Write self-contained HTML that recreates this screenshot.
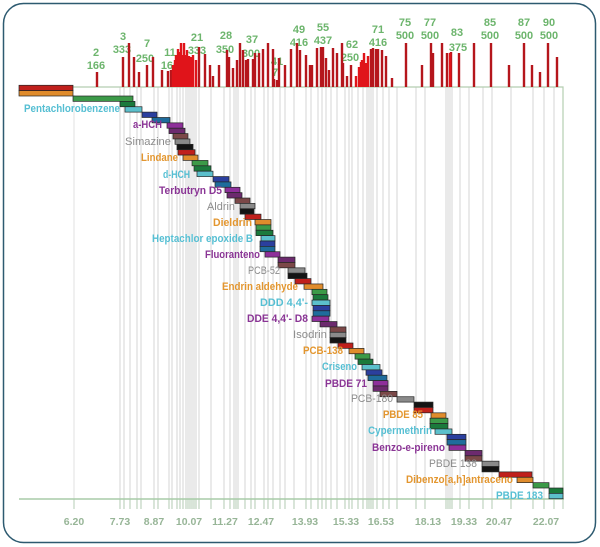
<!DOCTYPE html>
<html><head><meta charset="utf-8"><style>
html,body{margin:0;padding:0;background:#fff;}
svg{display:block;}
.c0{fill:#3c9a48}.c1{fill:#1b7a3c}.c2{fill:#5cc0cc}.c3{fill:#2b3f9e}.c4{fill:#1f6c9c}.c5{fill:#8e2f9a}
.c6{fill:#6c2a6e}.c7{fill:#7b4848}.c8{fill:#8a8a8a}.c9{fill:#141414}.c10{fill:#c0201c}.c11{fill:#e08c2c}
.b rect{stroke:#262626;stroke-width:0.7;}
.n{font-family:"Liberation Sans",sans-serif;font-weight:bold;font-size:11px;fill:#6db56d;text-anchor:middle;}
.ax{font-family:"Liberation Sans",sans-serif;font-weight:bold;font-size:10.5px;fill:#97b597;text-anchor:middle;}
.l{font-family:"Liberation Sans",sans-serif;font-weight:bold;font-size:11px;}
.cy{fill:#56bfd3}.pu{fill:#8a3595}.gr{fill:#8c8c8c;font-weight:normal}.or{fill:#e3962f}
</style></head><body>
<svg width="600" height="547" viewBox="0 0 600 547" xmlns="http://www.w3.org/2000/svg">
<rect x="0" y="0" width="600" height="547" fill="#fff"/>
<rect x="3.5" y="3.5" width="592" height="539" rx="20" ry="20" fill="#fff" stroke="#2d5a70" stroke-width="1.5"/>

<!-- gray vertical lines -->
<path d="M74 95V509" stroke="#e0e0e0" stroke-width="1" fill="none"/>
<path d="M120 87V509M124 87V509M130 87V509M137 87V509M141 87V509M154 87V509M158 87V509M169 87V509M172 87V509M177 87V509M180 87V509M183 87V509M186 87V509M188 87V509M190 87V509M192 87V509M194 87V509M196 87V509M199 87V509M211 87V509M224 87V509M230 87V509M234 87V509M236 87V509M238 87V509M245 87V509M251 87V509M255 87V509M264 87V509M268 87V509M273 87V509M280 87V509M285 87V509M294 87V509M306 87V509M311 87V509M318 87V509M322 87V509M326 87V509M331 87V509M337 87V509M345 87V509M349 87V509M352 87V509M358 87V509M363 87V509M367 87V509M369 87V509M371 87V509M373 87V509M377 87V509M383 87V509M389 87V509M397 87V509M416 87V509M425 87V509M446 87V509M448 87V509M450 87V509M452 87V509M460 87V509M469 87V509M483 87V509M492 87V509M511 87V509M533 87V509M544 87V509M554 87V509" stroke="#d9d9d9" stroke-width="1.1" fill="none"/>
<!-- ticks below axis -->
<path d="M74 499V509M120 499V509M124 499V509M130 499V509M137 499V509M141 499V509M154 499V509M158 499V509M169 499V509M172 499V509M177 499V509M180 499V509M183 499V509M186 499V509M188 499V509M190 499V509M192 499V509M194 499V509M196 499V509M199 499V509M211 499V509M224 499V509M230 499V509M234 499V509M236 499V509M238 499V509M245 499V509M251 499V509M255 499V509M264 499V509M268 499V509M273 499V509M280 499V509M285 499V509M294 499V509M306 499V509M311 499V509M318 499V509M322 499V509M326 499V509M331 499V509M337 499V509M345 499V509M349 499V509M352 499V509M358 499V509M363 499V509M367 499V509M369 499V509M371 499V509M373 499V509M377 499V509M383 499V509M389 499V509M397 499V509M416 499V509M425 499V509M446 499V509M448 499V509M450 499V509M452 499V509M460 499V509M469 499V509M483 499V509M492 499V509M511 499V509M533 499V509M544 499V509M554 499V509M563 499V509" stroke="#bcd2bc" stroke-width="1.1" fill="none"/>

<!-- plot frame -->
<path d="M73 87H563V499" stroke="#b4ceb0" stroke-width="1.2" fill="none"/>
<path d="M19 499H564" stroke="#a8cca8" stroke-width="1.6" fill="none"/>

<!-- top numbers -->
<text class="n" x="96" y="56">2</text><text class="n" x="96" y="69">166</text>
<text class="n" x="123" y="40">3</text><text class="n" x="122" y="53">333</text>
<text class="n" x="147" y="47">7</text><text class="n" x="145" y="62">250</text>
<text class="n" x="170" y="56">11</text><text class="n" x="170" y="69">166</text>
<text class="n" x="197" y="41">21</text><text class="n" x="197" y="54">333</text>
<text class="n" x="226" y="39">28</text><text class="n" x="225" y="53">350</text>
<text class="n" x="252" y="43">37</text><text class="n" x="251" y="57">300</text>
<text class="n" x="277" y="65">41</text><text class="n" x="275" y="76">7</text>
<text class="n" x="299" y="33">49</text><text class="n" x="299" y="46">416</text>
<text class="n" x="323" y="31">55</text><text class="n" x="323" y="44">437</text>
<text class="n" x="352" y="48">62</text><text class="n" x="350" y="61">250</text>
<text class="n" x="378" y="33">71</text><text class="n" x="378" y="46">416</text>
<text class="n" x="405" y="26">75</text><text class="n" x="405" y="39">500</text>
<text class="n" x="430" y="26">77</text><text class="n" x="430" y="39">500</text>
<text class="n" x="457" y="36">83</text><text class="n" x="458" y="51">375</text>
<text class="n" x="490" y="26">85</text><text class="n" x="490" y="39">500</text>
<text class="n" x="524" y="26">87</text><text class="n" x="524" y="39">500</text>
<text class="n" x="549" y="26">90</text><text class="n" x="549" y="39">500</text>

<!-- red bars -->
<path d="M97 87V72M123 87V57M129 87V43M134 87V57M139 87V72M147 87V65M153 87V57M162 87V70M168 87V71M171 87V70M199 87V47M205 87V54M210 87V65M213 87V76M219 87V65M227 87V50M229 87V57M233 87V68M237 87V60M240 87V43M243 87V50M246 87V60M248 87V59M253 87V59M255 87V53M259 87V53M263 87V49M268 87V43M273 87V49M274 87V79M277 87V80M279 87V58M285 87V65M291 87V49M297 87V43M300 87V50M306 87V55M310 87V65M312 87V65M317 87V48M321 87V47M323 87V47M326 87V58M329 87V70M333 87V48M337 87V53M342 87V43M343 87V63M347 87V76M351 87V65M371 87V49M373 87V48M376 87V49M378 87V49M382 87V50M386 87V56M392 87V78M406 87V43M422 87V65M431 87V43M433 87V53M442 87V43M447 87V53M451 87V52M459 87V53M474 87V43M491 87V43M509 87V65M524 87V43M532 87V65M540 87V72M548 87V43M557 87V57" stroke="#b5161c" stroke-width="2.4" fill="none"/>
<path d="M173 87V65M175 87V60M176 87V55M178 87V49M180 87V52M181 87V43M183 87V55M184 87V43M186 87V55M187 87V50M189 87V56M191 87V57M193 87V55M196 87V60M356 87V76M359 87V67M361 87V62M362 87V60M364 87V53M366 87V63M368 87V56M450 87V53" stroke="#e0141a" stroke-width="2.4" fill="none"/>

<!-- staircase bars -->
<g class="b">
<rect class="c10" x="19" y="85.26" width="54" height="5.37"/>
<rect class="c11" x="19" y="90.63" width="54" height="5.37"/>
<rect class="c0" x="73" y="96" width="60" height="5.37"/>
<rect class="c1" x="120" y="101.37" width="15" height="5.37"/>
<rect class="c2" x="125" y="106.74" width="17" height="5.37"/>
<rect class="c3" x="142" y="112.11" width="15" height="5.37"/>
<rect class="c4" x="152" y="117.48" width="18" height="5.37"/>
<rect class="c5" x="167" y="122.85" width="16" height="5.37"/>
<rect class="c6" x="169" y="128.22" width="16" height="5.37"/>
<rect class="c7" x="173" y="133.59" width="15" height="5.37"/>
<rect class="c8" x="175" y="138.96" width="15" height="5.37"/>
<rect class="c9" x="177" y="144.33" width="16" height="5.37"/>
<rect class="c10" x="178" y="149.7" width="17" height="5.37"/>
<rect class="c11" x="183" y="155.07" width="15" height="5.37"/>
<rect class="c0" x="192" y="160.44" width="16" height="5.37"/>
<rect class="c1" x="194" y="165.81" width="17" height="5.37"/>
<rect class="c2" x="197" y="171.18" width="16" height="5.37"/>
<rect class="c3" x="213" y="176.55" width="16" height="5.37"/>
<rect class="c4" x="215" y="181.92" width="16" height="5.37"/>
<rect class="c5" x="225" y="187.29" width="15" height="5.37"/>
<rect class="c6" x="227" y="192.66" width="15" height="5.37"/>
<rect class="c7" x="235" y="198.03" width="15" height="5.37"/>
<rect class="c8" x="240" y="203.4" width="15" height="5.37"/>
<rect class="c9" x="240" y="208.77" width="14" height="5.37"/>
<rect class="c10" x="245" y="214.14" width="16" height="5.37"/>
<rect class="c11" x="255" y="219.51" width="16" height="5.37"/>
<rect class="c0" x="256" y="224.88" width="15" height="5.37"/>
<rect class="c1" x="256" y="230.25" width="17" height="5.37"/>
<rect class="c2" x="261" y="235.62" width="14" height="5.37"/>
<rect class="c3" x="260" y="240.99" width="15" height="5.37"/>
<rect class="c4" x="260" y="246.36" width="15" height="5.37"/>
<rect class="c5" x="265" y="251.73" width="15" height="5.37"/>
<rect class="c6" x="278" y="257.1" width="17" height="5.37"/>
<rect class="c7" x="278" y="262.47" width="17" height="5.37"/>
<rect class="c8" x="288" y="267.84" width="17" height="5.37"/>
<rect class="c9" x="288" y="273.21" width="19" height="5.37"/>
<rect class="c10" x="295" y="278.58" width="16" height="5.37"/>
<rect class="c11" x="304" y="283.95" width="19" height="5.37"/>
<rect class="c0" x="312" y="289.32" width="15" height="5.37"/>
<rect class="c1" x="313" y="294.69" width="15" height="5.37"/>
<rect class="c2" x="312" y="300.06" width="18" height="5.37"/>
<rect class="c3" x="313" y="305.43" width="17" height="5.37"/>
<rect class="c4" x="313" y="310.8" width="17" height="5.37"/>
<rect class="c5" x="312" y="316.17" width="17" height="5.37"/>
<rect class="c6" x="320" y="321.54" width="17" height="5.37"/>
<rect class="c7" x="330" y="326.91" width="16" height="5.37"/>
<rect class="c8" x="330" y="332.28" width="16" height="5.37"/>
<rect class="c9" x="330" y="337.65" width="16" height="5.37"/>
<rect class="c10" x="338" y="343.02" width="15" height="5.37"/>
<rect class="c11" x="349" y="348.39" width="15" height="5.37"/>
<rect class="c0" x="355" y="353.76" width="15" height="5.37"/>
<rect class="c1" x="358" y="359.13" width="15" height="5.37"/>
<rect class="c2" x="362" y="364.5" width="18" height="5.37"/>
<rect class="c3" x="366" y="369.87" width="16" height="5.37"/>
<rect class="c4" x="368" y="375.24" width="19" height="5.37"/>
<rect class="c5" x="373" y="380.61" width="15" height="5.37"/>
<rect class="c6" x="373" y="385.98" width="15" height="5.37"/>
<rect class="c7" x="380" y="391.35" width="17" height="5.37"/>
<rect class="c8" x="397" y="396.72" width="17" height="5.37"/>
<rect class="c9" x="414" y="402.09" width="19" height="5.37"/>
<rect class="c10" x="414" y="407.46" width="19" height="5.37"/>
<rect class="c11" x="431" y="412.83" width="15" height="5.37"/>
<rect class="c0" x="430" y="418.2" width="18" height="5.37"/>
<rect class="c1" x="430" y="423.57" width="18" height="5.37"/>
<rect class="c2" x="435" y="428.94" width="17" height="5.37"/>
<rect class="c3" x="447" y="434.31" width="19" height="5.37"/>
<rect class="c4" x="447" y="439.68" width="19" height="5.37"/>
<rect class="c5" x="449" y="445.05" width="17" height="5.37"/>
<rect class="c6" x="465" y="450.42" width="17" height="5.37"/>
<rect class="c7" x="465" y="455.79" width="17" height="5.37"/>
<rect class="c8" x="482" y="461.16" width="17" height="5.37"/>
<rect class="c9" x="482" y="466.53" width="17" height="5.37"/>
<rect class="c10" x="499" y="471.9" width="33" height="5.37"/>
<rect class="c11" x="517" y="477.27" width="16" height="5.37"/>
<rect class="c0" x="533" y="482.64" width="16" height="5.37"/>
<rect class="c1" x="549" y="488.01" width="14" height="5.37"/>
<rect class="c2" x="549" y="493.38" width="14" height="5.37"/>
</g>

<!-- compound labels -->
<text class="l cy" x="24" y="112" textLength="96" lengthAdjust="spacingAndGlyphs">Pentachlorobenzene</text>
<text class="l pu" x="133" y="128" textLength="29" lengthAdjust="spacingAndGlyphs">a-HCH</text>
<text class="l gr" x="125" y="145" textLength="46" lengthAdjust="spacingAndGlyphs">Simazine</text>
<text class="l or" x="141" y="161" textLength="37" lengthAdjust="spacingAndGlyphs">Lindane</text>
<text class="l cy" x="163" y="178" textLength="27" lengthAdjust="spacingAndGlyphs">d-HCH</text>
<text class="l pu" x="159" y="194" textLength="63" lengthAdjust="spacingAndGlyphs">Terbutryn D5</text>
<text class="l gr" x="207" y="210" textLength="28" lengthAdjust="spacingAndGlyphs">Aldrin</text>
<text class="l or" x="213" y="226" textLength="39" lengthAdjust="spacingAndGlyphs">Dieldrin</text>
<text class="l cy" x="152" y="242" textLength="101" lengthAdjust="spacingAndGlyphs">Heptachlor epoxide B</text>
<text class="l pu" x="205" y="258" textLength="55" lengthAdjust="spacingAndGlyphs">Fluoranteno</text>
<text class="l gr" x="248" y="274" textLength="32" lengthAdjust="spacingAndGlyphs">PCB-52</text>
<text class="l or" x="222" y="290" textLength="76" lengthAdjust="spacingAndGlyphs">Endrin aldehyde</text>
<text class="l cy" x="260" y="306" textLength="48" lengthAdjust="spacingAndGlyphs">DDD 4,4'-</text>
<text class="l pu" x="247" y="322" textLength="61" lengthAdjust="spacingAndGlyphs">DDE 4,4'- D8</text>
<text class="l gr" x="293" y="338" textLength="34" lengthAdjust="spacingAndGlyphs">Isodrin</text>
<text class="l or" x="303" y="354" textLength="40" lengthAdjust="spacingAndGlyphs">PCB-138</text>
<text class="l cy" x="322" y="370" textLength="35" lengthAdjust="spacingAndGlyphs">Criseno</text>
<text class="l pu" x="325" y="387" textLength="42" lengthAdjust="spacingAndGlyphs">PBDE 71</text>
<text class="l gr" x="351" y="402" textLength="42" lengthAdjust="spacingAndGlyphs">PCB-180</text>
<text class="l or" x="383" y="418" textLength="40" lengthAdjust="spacingAndGlyphs">PBDE 85</text>
<text class="l cy" x="368" y="434" textLength="64" lengthAdjust="spacingAndGlyphs">Cypermethrin</text>
<text class="l pu" x="372" y="451" textLength="73" lengthAdjust="spacingAndGlyphs">Benzo-e-pireno</text>
<text class="l gr" x="429" y="467" textLength="48" lengthAdjust="spacingAndGlyphs">PBDE 138</text>
<text class="l or" x="406" y="483" textLength="107" lengthAdjust="spacingAndGlyphs">Dibenzo[a,h]antraceno</text>
<text class="l cy" x="496" y="499" textLength="47" lengthAdjust="spacingAndGlyphs">PBDE 183</text>

<!-- axis labels -->
<text class="ax" x="74" y="525">6.20</text>
<text class="ax" x="120" y="525">7.73</text>
<text class="ax" x="154" y="525">8.87</text>
<text class="ax" x="189" y="525">10.07</text>
<text class="ax" x="225" y="525">11.27</text>
<text class="ax" x="261" y="525">12.47</text>
<text class="ax" x="305" y="525">13.93</text>
<text class="ax" x="346" y="525">15.33</text>
<text class="ax" x="381" y="525">16.53</text>
<text class="ax" x="428" y="525">18.13</text>
<text class="ax" x="464" y="525">19.33</text>
<text class="ax" x="499" y="525">20.47</text>
<text class="ax" x="546" y="525">22.07</text>
</svg>
</body></html>
